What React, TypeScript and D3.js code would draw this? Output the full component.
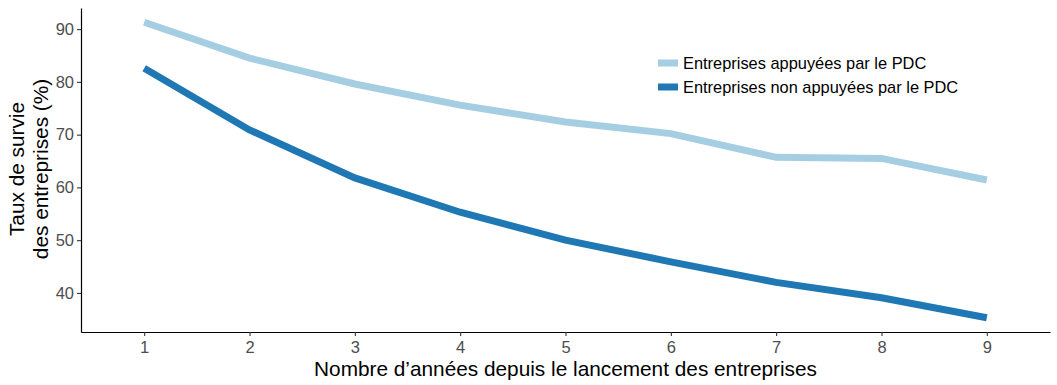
import * as d3 from "d3";
import { useRef, useEffect, ReactElement } from "react";

// years since launch
const years = [1, 2, 3, 4, 5, 6, 7, 8, 9];
// survival rate (%) of supported firms
const supported = [91.3, 84.5, 79.6, 75.6, 72.4, 70.2, 65.7, 65.5, 61.4];
// survival rate (%) of non-supported firms
const notSupported = [82.6, 70.9, 61.8, 55.3, 50.0, 45.9, 42.0, 39.1, 35.3];
const yTicks = [40, 50, 60, 70, 80, 90];
const seriesNames = ["Entreprises appuyées par le PDC", "Entreprises non appuyées par le PDC"];
const seriesColors = ["#a6cee3", "#1f78b4"];

const width = 1057;
const height = 385;
const FONT = "'Liberation Sans', Arial, sans-serif";

const LineChart = (): ReactElement => {
    const svgRef = useRef<SVGSVGElement>(null);

    useEffect(() => {
        if (!svgRef.current) return;
        const svg = d3.select(svgRef.current);
        svg.selectAll("*").remove();

        const left = 81, right = 1050, top = 8, bottom = 332;

        // discrete-like x with 0.6 padding each side
        const x = d3.scaleLinear().domain([0.4, 9.6]).range([left, right]);
        const y = d3.scaleLinear().domain([32.6, 94.0]).range([bottom, top]);

        const line = d3.line<number>()
            .x((_, i) => x(years[i]))
            .y((d) => y(d));

        [supported, notSupported].forEach((vals, i) => {
            svg.append("path")
                .datum(vals)
                .attr("d", line)
                .attr("fill", "none")
                .attr("stroke", seriesColors[i])
                .attr("stroke-width", 7);
        });

        // x axis
        const xAxis = svg.append("g")
            .attr("transform", `translate(0,${bottom})`)
            .call(d3.axisBottom(x).tickValues(years).tickSize(4).tickPadding(5).tickSizeOuter(0).tickFormat(d3.format("d")));
        xAxis.select(".domain").attr("stroke", "#000").attr("stroke-width", 1.2);
        xAxis.selectAll(".tick line").attr("stroke", "#333").attr("stroke-width", 1.1);
        xAxis.selectAll(".tick text")
            .attr("fill", "#4d4d4d").attr("font-size", 16.5).attr("font-family", FONT);

        // y axis
        const yAxis = svg.append("g")
            .attr("transform", `translate(${left},0)`)
            .call(d3.axisLeft(y).tickValues(yTicks).tickSize(4).tickPadding(3).tickSizeOuter(0));
        yAxis.select(".domain").attr("stroke", "#000").attr("stroke-width", 1.2);
        yAxis.selectAll(".tick line").attr("stroke", "#333").attr("stroke-width", 1.1);
        yAxis.selectAll(".tick text")
            .attr("fill", "#4d4d4d").attr("font-size", 16.5).attr("font-family", FONT);

        // axis titles
        svg.append("text")
            .attr("x", (left + right) / 2)
            .attr("y", 376)
            .attr("text-anchor", "middle")
            .attr("font-size", 20.8)
            .attr("font-family", FONT)
            .attr("fill", "#000")
            .text("Nombre d’années depuis le lancement des entreprises");

        const yTitle = svg.append("text")
            .attr("transform", "translate(24,169) rotate(-90)")
            .attr("text-anchor", "middle")
            .attr("font-size", 20.8)
            .attr("font-family", FONT)
            .attr("fill", "#000");
        yTitle.append("tspan").attr("x", 0).attr("y", 0).text("Taux de survie");
        yTitle.append("tspan").attr("x", 0).attr("y", 24).text("des entreprises (%)");

        // legend
        const legend = svg.append("g").attr("transform", "translate(658,63)");
        seriesNames.forEach((name, i) => {
            const g = legend.append("g").attr("transform", `translate(0,${i * 24})`);
            g.append("rect")
                .attr("x", 0).attr("y", -3.5)
                .attr("width", 20).attr("height", 7)
                .attr("fill", seriesColors[i]);
            g.append("text")
                .attr("x", 25).attr("y", 6)
                .attr("font-size", 16.4)
                .attr("font-family", FONT)
                .attr("fill", "#000")
                .text(name);
        });

        return () => {
            svg.selectAll("*").remove();
        };
    }, []);

    return (
        <svg width={width} height={height} ref={svgRef}
            style={{ position: "absolute", left: 0, top: 0, background: "#fff" }}></svg>
    );
};

export default function App(): ReactElement {
    return <LineChart />;
}
